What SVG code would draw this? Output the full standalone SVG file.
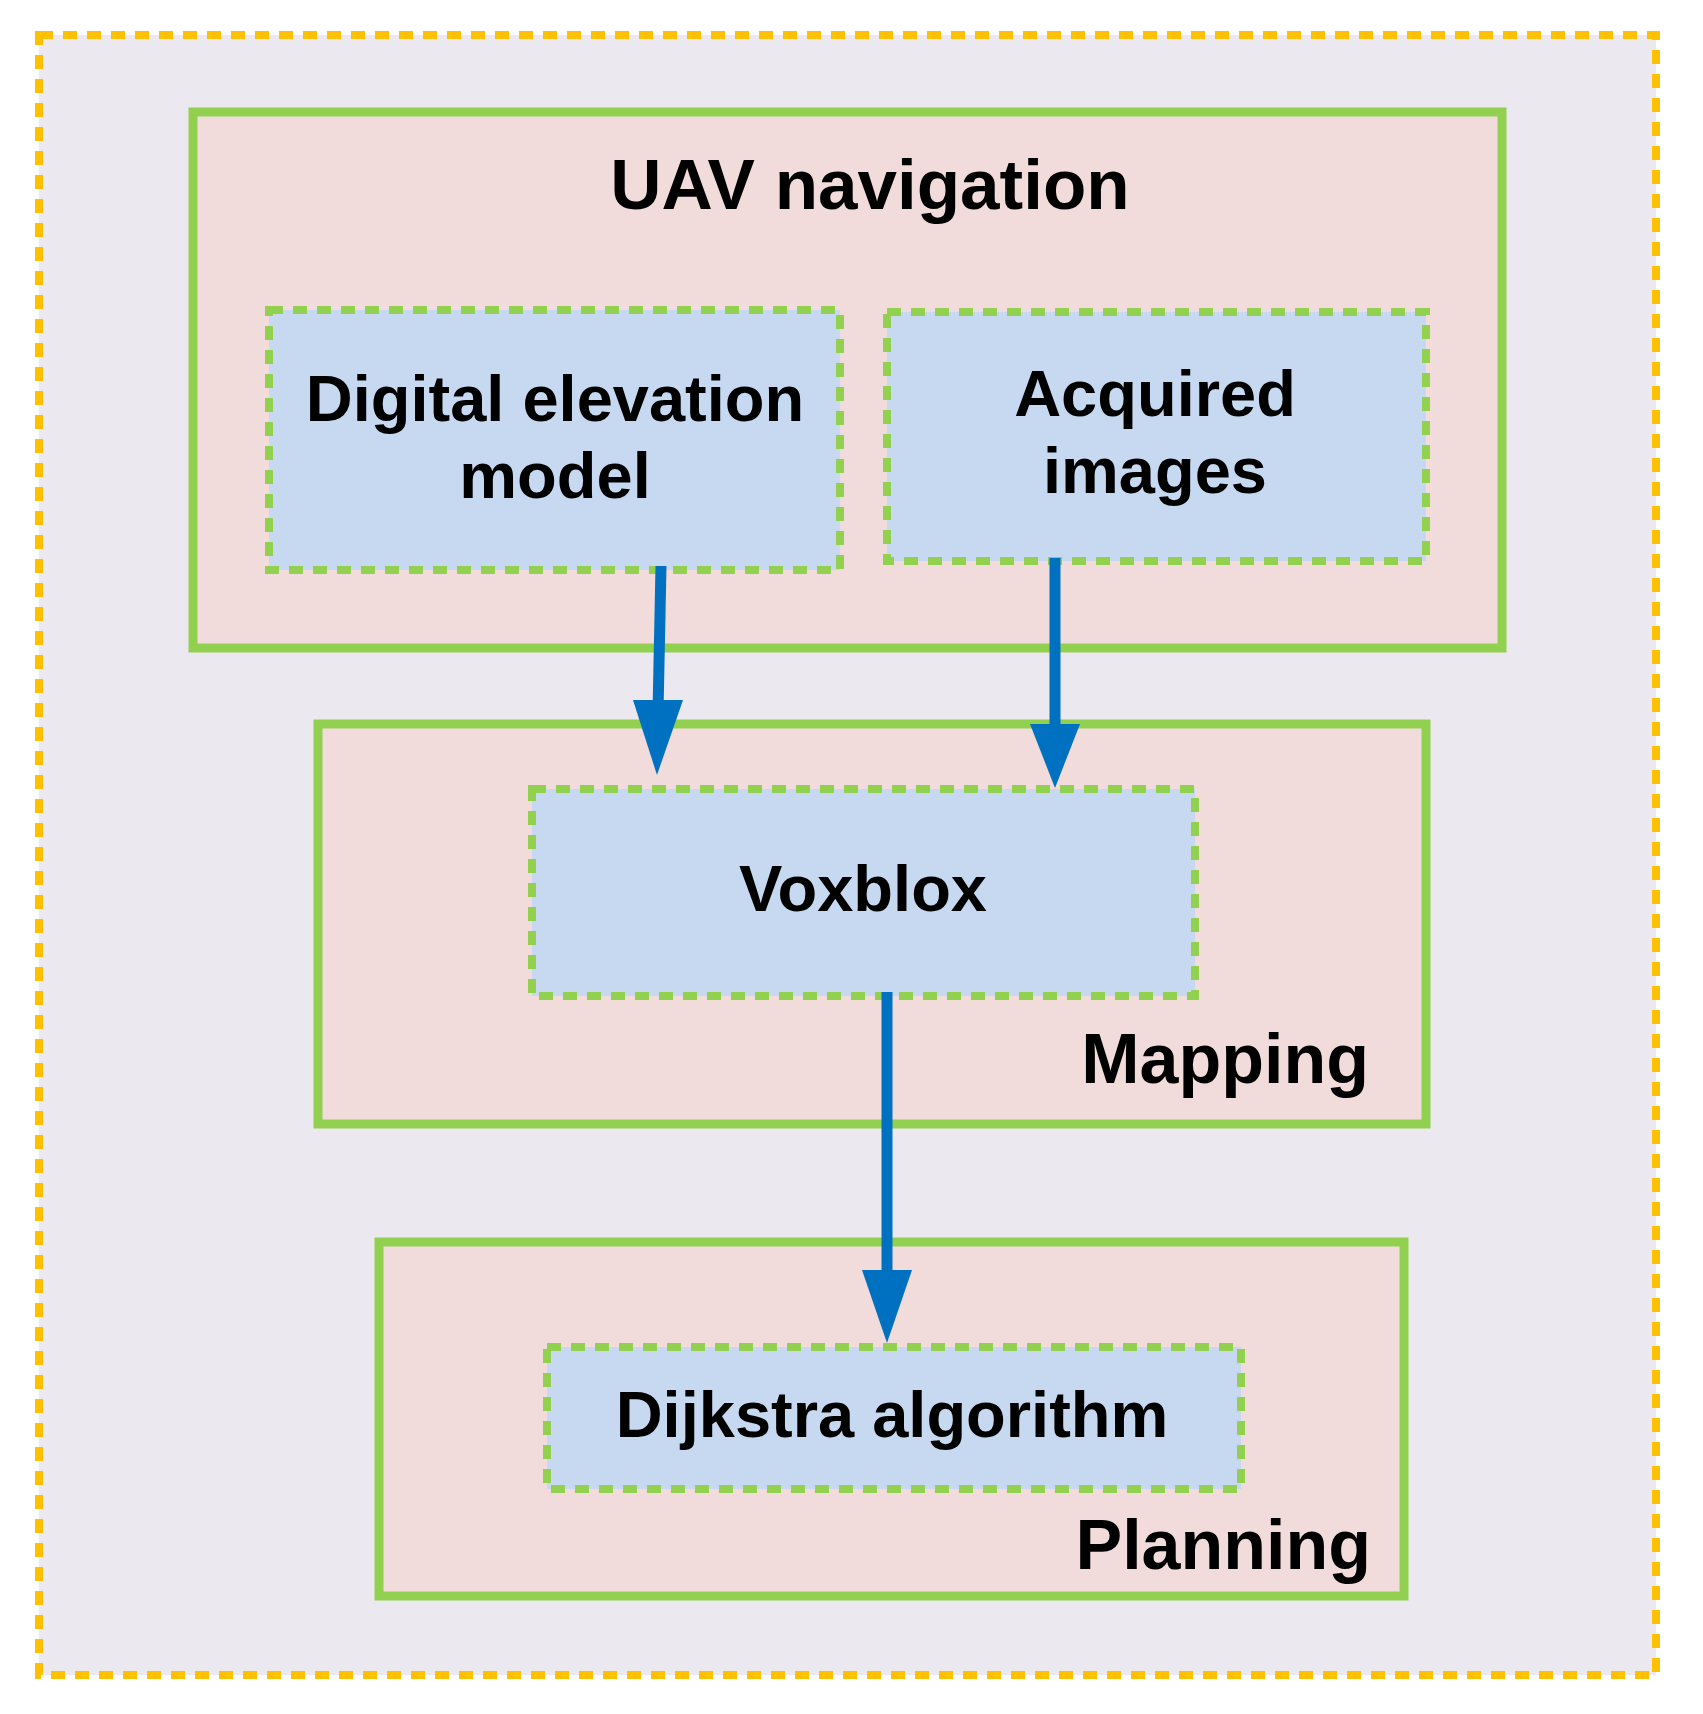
<svg xmlns="http://www.w3.org/2000/svg" width="1703" height="1714" viewBox="0 0 1703 1714">
<style>
.grp{fill:#F2DCDB;stroke:#92D050;stroke-width:9}
.box{fill:#C6D9F1;stroke:#92D050;stroke-width:8;stroke-dasharray:14 10}
.t{font-family:"Liberation Sans",Arial,sans-serif;font-weight:bold;fill:#000;font-size:65px}
.big{font-size:71px}
.lab{font-size:70px}
.c{stroke:#0070C0;stroke-width:11;fill:none}
.h{fill:#0070C0}
</style>
<rect width="1703" height="1714" fill="#fff"/>
<rect x="39" y="35" width="1617" height="1640" fill="#ECE8EF" stroke="#FFC000" stroke-width="8" stroke-dasharray="14 10"/>
<g id="uav"><rect class="grp" x="193" y="112" width="1309" height="536"/><text class="t big" x="870" y="209" text-anchor="middle">UAV navigation</text></g>
<g id="dem"><rect class="box" x="269" y="310" width="571" height="260"/><text class="t" x="555" y="421" text-anchor="middle">Digital elevation</text><text class="t" x="555" y="498" text-anchor="middle">model</text></g>
<g id="acq"><rect class="box" x="887" y="312" width="539" height="249"/><text class="t" x="1155" y="416" text-anchor="middle">Acquired</text><text class="t" x="1155" y="493" text-anchor="middle">images</text></g>
<g id="mapping"><rect class="grp" x="318" y="724" width="1108" height="400"/><text class="t lab" x="1369" y="1083" text-anchor="end">Mapping</text></g>
<g id="planning"><rect class="grp" x="379" y="1242" width="1025" height="354"/><text class="t lab" x="1371" y="1569" text-anchor="end">Planning</text></g>
<g id="voxblox"><rect class="box" x="532" y="789" width="663" height="207"/><text class="t" x="863" y="911" text-anchor="middle">Voxblox</text></g>
<g id="dijkstra"><rect class="box" x="547" y="1347" width="694" height="142"/><text class="t" x="892" y="1437" text-anchor="middle">Dijkstra algorithm</text></g>
<g id="connectors">
<line class="c" x1="661" y1="566" x2="658" y2="712"/><polygon class="h" points="633,700 683,700 657,775"/>
<line class="c" x1="1055" y1="558" x2="1055" y2="730"/><polygon class="h" points="1030,724 1080,724 1055,788"/>
<line class="c" x1="887" y1="992" x2="887" y2="1280"/><polygon class="h" points="862,1270 912,1270 887,1343"/>
</g>
</svg>
